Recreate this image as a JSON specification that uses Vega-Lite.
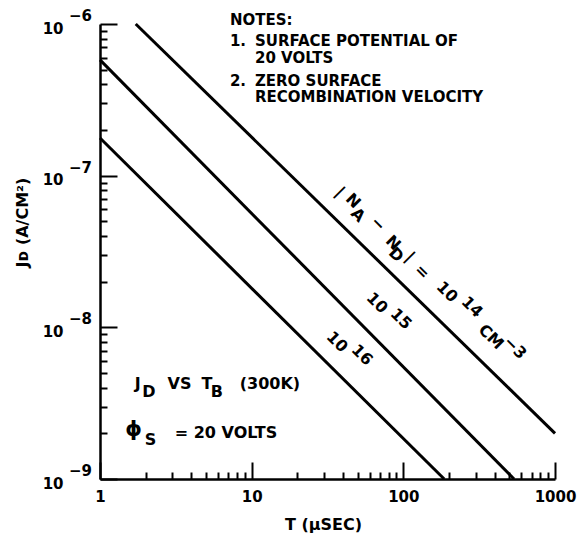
{
  "$schema": "https://vega.github.io/schema/vega-lite/v6.json",
  "width": 455,
  "height": 455,
  "autosize": {"type": "none"},
  "padding": {"left": 100, "top": 24, "right": 32, "bottom": 56},
  "background": "white",
  "config": {
    "view": {"stroke": null},
    "font": "DejaVu Sans",
    "text": {"font": "DejaVu Sans", "fontWeight": "bold", "fontSize": 16, "color": "black"}
  },
  "encoding": {
    "x": {
      "field": "T", "type": "quantitative",
      "scale": {"type": "log", "domain": [1, 1000], "nice": false},
      "axis": {
        "values": [1,2,3,4,5,6,7,8,9,10,20,30,40,50,60,70,80,90,100,200,300,400,500,600,700,800,900,1000],
        "labelExpr": "datum.value == 1 ? '1' : datum.value == 10 ? '10' : datum.value == 100 ? '100' : datum.value == 1000 ? '1000' : ''",
        "tickSize": {"condition": {"test": "indexof([1,10,100,1000], datum.value) >= 0", "value": -17}, "value": -7},
        "tickColor": "black", "tickWidth": 2,
        "domainColor": "black", "domainWidth": 2.5,
        "grid": false,
        "labelOverlap": false, "labelFlush": false,
        "labelFont": "DejaVu Sans", "labelFontWeight": "bold", "labelFontSize": 15, "labelColor": "black",
        "labelPadding": 27,
        "title": "T (μSEC)",
        "titleFont": "DejaVu Sans", "titleFontWeight": "bold", "titleFontSize": 16, "titleColor": "black",
        "titleX": 223, "titleY": 45, "titleBaseline": "middle", "titleAlign": "center"
      }
    },
    "y": {
      "field": "J", "type": "quantitative",
      "scale": {"type": "log", "domain": [1e-9, 1e-6], "nice": false},
      "axis": {
        "values": [1e-9,2e-9,3e-9,4e-9,5e-9,6e-9,7e-9,8e-9,9e-9,1e-8,2e-8,3e-8,4e-8,5e-8,6e-8,7e-8,8e-8,9e-8,1e-7,2e-7,3e-7,4e-7,5e-7,6e-7,7e-7,8e-7,9e-7,1e-6],
        "labelExpr": "indexof([1e-9,1e-8,1e-7,1e-6], datum.value) >= 0 ? '10' : ''",
        "tickSize": {"condition": {"test": "indexof([1e-9,1e-8,1e-7,1e-6], datum.value) >= 0", "value": -17}, "value": -7},
        "tickColor": "black", "tickWidth": 2,
        "domainColor": "black", "domainWidth": 2.5,
        "grid": false,
        "labelOverlap": false, "labelFlush": false,
        "labelFont": "DejaVu Sans", "labelFontWeight": "bold", "labelFontSize": 15, "labelColor": "black",
        "labelPadding": 54, "labelOffset": 4,
        "title": "Jᴅ (A/CM²)",
        "titleFont": "DejaVu Sans", "titleFontWeight": "bold", "titleFontSize": 16, "titleColor": "black",
        "titleX": -78, "titleY": 198, "titleBaseline": "middle", "titleAlign": "center", "titleAngle": 270
      }
    }
  },
  "layer": [
    {
      "data": {"values": [
        {"series": "1e14", "T": 1.72, "J": 1e-6},
        {"series": "1e14", "T": 1000, "J": 2.0e-9},
        {"series": "1e15", "T": 1, "J": 5.8e-7},
        {"series": "1e15", "T": 537, "J": 1e-9},
        {"series": "1e16", "T": 1, "J": 1.77e-7},
        {"series": "1e16", "T": 186, "J": 1e-9}
      ]},
      "mark": {"type": "line", "color": "black", "strokeWidth": 3, "clip": false},
      "encoding": {"detail": {"field": "series"}}
    },
    {
      "data": {"values": [
        {"label": "−6", "T": 0.744, "J": 1.129e-6},
        {"label": "−7", "T": 0.744, "J": 1.129e-7},
        {"label": "−8", "T": 0.744, "J": 1.129e-8},
        {"label": "−9", "T": 0.744, "J": 1.129e-9}
      ]},
      "mark": {"type": "text", "align": "center", "baseline": "middle", "fontSize": 15},
      "encoding": {"text": {"field": "label"}}
    },
    {
      "data": {"values": [
        {"label": "J", "T": 1.77, "J": 4.23e-9},
        {"label": "D", "T": 2.104, "J": 3.75e-9},
        {"label": "VS", "T": 3.343, "J": 4.23e-9},
        {"label": "T", "T": 5.075, "J": 4.23e-9},
        {"label": "B", "T": 5.90, "J": 3.75e-9},
        {"label": "(300K)", "T": 13.2, "J": 4.23e-9},
        {"label": "S", "T": 2.152, "J": 1.81e-9},
        {"label": "= 20 VOLTS", "T": 6.77, "J": 2.0e-9}
      ]},
      "mark": {"type": "text", "align": "center", "baseline": "middle"},
      "encoding": {"text": {"field": "label"}}
    },
    {
      "data": {"values": [
        {"label": "ϕ", "T": 1.663, "J": 2.10e-9}
      ]},
      "mark": {"type": "text", "align": "center", "baseline": "middle", "fontSize": 21},
      "encoding": {"text": {"field": "label"}}
    },
    {
      "data": {"values": [
        {"label": "NOTES:", "T": 7.19, "J": 1.063e-6},
        {"label": "1.", "T": 7.19, "J": 7.75e-7},
        {"label": "SURFACE POTENTIAL OF", "T": 10.51, "J": 7.75e-7},
        {"label": "20 VOLTS", "T": 10.51, "J": 6.01e-7},
        {"label": "2.", "T": 7.19, "J": 4.22e-7},
        {"label": "ZERO SURFACE", "T": 10.51, "J": 4.22e-7},
        {"label": "RECOMBINATION VELOCITY", "T": 10.51, "J": 3.28e-7}
      ]},
      "mark": {"type": "text", "align": "left", "baseline": "middle", "fontSize": 15},
      "encoding": {"text": {"field": "label"}}
    },
    {
      "data": {"values": [
        {"label": "|", "T": 38.2, "J": 7.80e-8},
        {"label": "N", "T": 46.5, "J": 6.81e-8},
        {"label": "A", "T": 50.2, "J": 5.50e-8},
        {"label": "−", "T": 68.0, "J": 4.80e-8},
        {"label": "N", "T": 85.4, "J": 3.60e-8},
        {"label": "D", "T": 89.4, "J": 3.00e-8},
        {"label": "|", "T": 110.5, "J": 2.91e-8},
        {"label": "=", "T": 132.6, "J": 2.32e-8},
        {"label": "10", "T": 193.8, "J": 1.71e-8},
        {"label": "14", "T": 283.3, "J": 1.36e-8},
        {"label": "CM", "T": 378, "J": 8.64e-9},
        {"label": "−3", "T": 544, "J": 7.31e-9},
        {"label": "10", "T": 67.0, "J": 1.447e-8},
        {"label": "15", "T": 96.4, "J": 1.135e-8},
        {"label": "10", "T": 36.5, "J": 8.0e-9},
        {"label": "16", "T": 53.4, "J": 6.57e-9}
      ]},
      "mark": {"type": "text", "align": "center", "baseline": "middle", "angle": 45},
      "encoding": {"text": {"field": "label"}}
    }
  ]
}
